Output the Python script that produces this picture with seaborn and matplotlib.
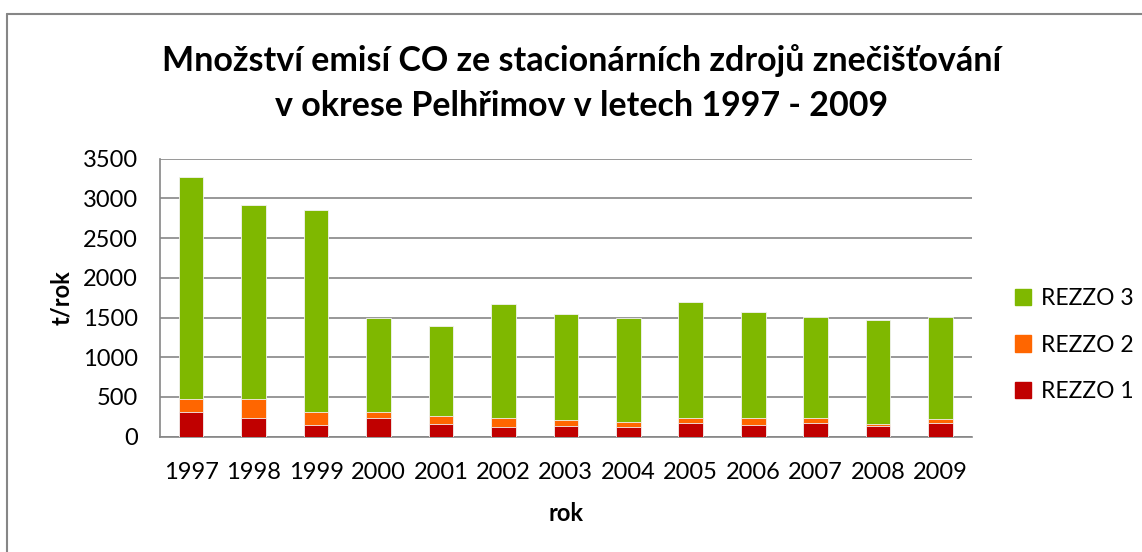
import matplotlib
matplotlib.use("Agg")
import matplotlib.pyplot as plt
import seaborn as sns
import pandas as pd
from matplotlib.patches import Patch

years = ["1997", "1998", "1999", "2000", "2001", "2002", "2003",
         "2004", "2005", "2006", "2007", "2008", "2009"]
rezzo1 = [307, 235, 147, 239, 160, 126, 130, 122, 172, 147, 172, 134, 172]
rezzo2 = [168, 240, 164, 72, 100, 109, 84, 63, 67, 84, 59, 21, 46]
rezzo3 = [2793, 2444, 2546, 1189, 1134, 1432, 1332, 1310, 1454, 1340, 1281, 1319, 1294]

c1, c2, c3 = "#C00000", "#FF6600", "#7FB800"
grid_c = "#868686"

df = pd.DataFrame({"rok": years, "r1": rezzo1, "r2": rezzo2, "r3": rezzo3})
df["s2"] = df["r1"] + df["r2"]
df["s3"] = df["s2"] + df["r3"]

sns.set_style("white")
plt.rcParams["font.family"] = ["Lato", "DejaVu Sans"]
plt.rcParams["text.color"] = "black"
plt.rcParams["axes.labelcolor"] = "black"
plt.rcParams["xtick.labelcolor"] = "black"
plt.rcParams["ytick.labelcolor"] = "black"

fig = plt.figure(figsize=(11.42, 5.52), dpi=100)
ax = fig.add_axes([0.140, 0.209, 0.711, 0.5035])

# stacked bars drawn back to front
for col, c in [("s3", c3), ("s2", c2), ("r1", c1)]:
    sns.barplot(data=df, x="rok", y=col, color=c, width=0.395, ax=ax,
                edgecolor="#f2f2f2", linewidth=0.6, saturation=1, zorder=3)

ax.set_ylim(0, 3500)
ax.set_yticks(range(0, 3501, 500))
ax.set_xlim(-0.5, len(years) - 0.5)
ax.yaxis.grid(True, color=grid_c, linewidth=1.2, zorder=0)
ax.set_axisbelow(True)
for s in ["top", "right"]:
    ax.spines[s].set_visible(False)
for s in ["left", "bottom"]:
    ax.spines[s].set_color(grid_c)
    ax.spines[s].set_linewidth(1.2)

ax.tick_params(axis="y", length=7, color=grid_c, width=1.2, labelsize=17, pad=9)
ax.tick_params(axis="x", length=0, labelsize=17, pad=18)
# x ticks sit between categories
ax.set_xticks([i - 0.5 for i in range(len(years) + 1)], minor=True)
ax.tick_params(axis="x", which="minor", length=7, color=grid_c, width=1.2)

ax.set_xlabel("rok", fontsize=17, fontweight="bold", labelpad=14)
ax.set_ylabel("t/rok", fontsize=17, fontweight="bold", labelpad=7)

fig.text(0.509, 0.8505, "Množství emisí CO ze stacionárních zdrojů znečišťování\nv okrese Pelhřimov v letech 1997 - 2009",
         ha="center", va="center", fontsize=24.5, fontweight="bold", linespacing=1.5)

handles = [Patch(color=c3, label="REZZO 3"), Patch(color=c2, label="REZZO 2"),
           Patch(color=c1, label="REZZO 1")]
fig.legend(handles=handles, loc="center left", bbox_to_anchor=(0.871, 0.375),
           frameon=False, fontsize=16.5, handlelength=0.7, handleheight=0.7,
           handletextpad=0.4, labelspacing=1.1)

# chart frame (only top and left edges are visible in the crop)
fig.add_artist(plt.Line2D([0.0061, 0.0061], [0, 0.9745], color=grid_c, linewidth=1.5))
fig.add_artist(plt.Line2D([0.0061, 1.0], [0.9745, 0.9745], color=grid_c, linewidth=1.5))

fig.savefig("out.png", dpi=100)
